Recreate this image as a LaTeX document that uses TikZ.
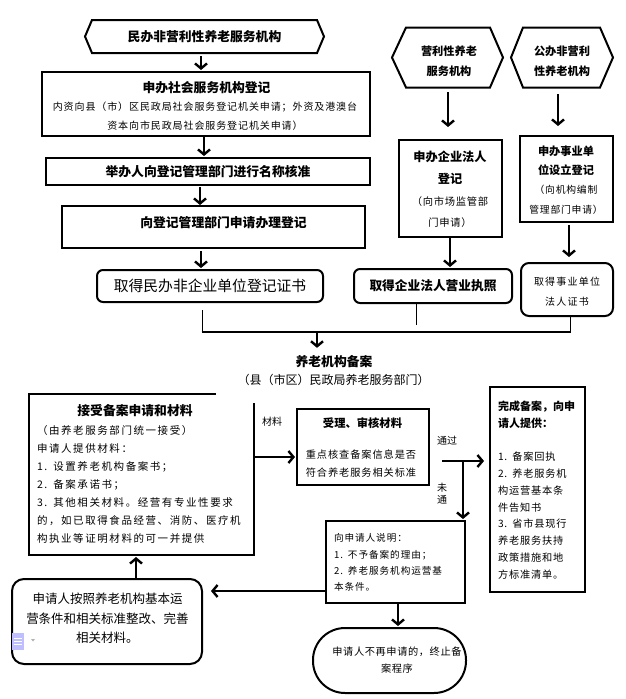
\documentclass[tikz,border=0pt]{standalone}
\usepackage{fontspec}
\setmainfont{Noto Sans CJK SC}
\usetikzlibrary{arrows.meta,calc}
\newcommand{\fz}[2]{\fontsize{#1}{#2}\selectfont}
\newcommand{\lsp}[1]{\addfontfeature{LetterSpace=#1}}
\tikzset{
  box/.style={draw, line width=2pt, inner sep=0pt, outer sep=0pt},
  rbox/.style={box, rounded corners=6pt},
  ghost/.style={inner sep=0pt, outer sep=0pt},
  txt/.style={inner sep=0pt, outer sep=0pt, align=center},
  ltxt/.style={inner sep=0pt, outer sep=0pt, align=left, anchor=west},
  edge/.style={line width=2pt, line join=miter},
  arr/.style={line width=2.4pt, -{Straight Barb[length=5pt,width=12pt]}},
  thinl/.style={line width=1pt},
}
\begin{document}
\begin{tikzpicture}[x=1pt,y=-1pt]
\useasboundingbox (0,0) rectangle (626,699);

% ---------- left column ----------
\node[ghost, minimum width=239pt, minimum height=33pt, font=\fz{12.8}{15}\bfseries] (hA) at (204.5,36.5) {民办非营利性养老服务机构};
\draw[edge] ($(hA.north west)+(7,0)$) -- ($(hA.north east)+(-7,0)$) -- (hA.east) -- ($(hA.south east)+(-7,0)$) -- ($(hA.south west)+(7,0)$) -- (hA.west) -- cycle;

\node[box, minimum width=328pt, minimum height=64pt] (bB) at (206,104) {};
\node[txt, font=\fz{12.8}{15}\bfseries] (tB1) at (206.5,87.5) {申办社会服务机构登记};
\node[txt, font=\fz{10}{19.3}\lsp{9}] (tB2) at (205,116.5) {内资向县（市）区民政局社会服务登记机关申请；外资及港澳台\\资本向市民政局社会服务登记机关申请）};

\node[box, minimum width=324pt, minimum height=27pt, font=\fz{12.8}{15}\bfseries] (bC) at (208,171.5) {举办人向登记管理部门进行名称核准};

\node[box, minimum width=303pt, minimum height=42pt] (bD) at (213.5,227) {};
\node[txt, font=\fz{12.8}{15}\bfseries] (tD) at (223.5,222.5) {向登记管理部门申请办理登记};

\node[rbox, minimum width=226pt, minimum height=32pt, font=\fz{14.8}{18}] (rE) at (210,286) {取得民办非企业单位登记证书};

\draw[arr] ($(hA.south)+(-3.5,3)$) -- ($(bB.north)+(-5,-2)$);
\draw[arr] ($(bB.south)+(-2,1)$) -- ($(bC.north)+(-4,-2)$);
\draw[arr] ($(bC.south)+(-8,2)$) -- ($(bD.north)+(-13.5,-1)$);
\draw[arr] ($(bD.south)+(-12.5,3)$) -- ($(rE.north)+(-9,-2)$);

% ---------- right columns ----------
\node[ghost, minimum width=111pt, minimum height=60pt] (hF) at (447.5,57.5) {};
\draw[edge] ($(hF.north west)+(14,0)$) -- ($(hF.north east)+(-13,0)$) -- (hF.east) -- ($(hF.south east)+(-13,0)$) -- ($(hF.south west)+(14,0)$) -- (hF.west) -- cycle;
\node[txt, font=\fz{11.2}{20}\bfseries] (tF) at (449,61) {营利性养老\\服务机构};

\node[ghost, minimum width=102pt, minimum height=60pt] (hG) at (562,57.5) {};
\draw[edge] ($(hG.north west)+(12,0)$) -- ($(hG.north east)+(-13,0)$) -- (hG.east) -- ($(hG.south east)+(-13,0)$) -- ($(hG.south west)+(12,0)$) -- (hG.west) -- cycle;
\node[txt, font=\fz{11.2}{20}\bfseries] (tG) at (562,61) {公办非营利\\性养老机构};

\node[box, minimum width=103pt, minimum height=97pt] (bH) at (450.5,188.5) {};
\node[txt, font=\fz{10.3}{21.7}] (tH) at (450,189.5) {\fz{12.2}{21.7}\bfseries 申办企业法人\\\fz{12.2}{21.7}\bfseries 登记\\\mdseries\fz{10.3}{21.7}\lsp{7}（向市场监管部\\\mdseries\fz{10.3}{21.7}\lsp{7}门申请）};

\node[box, minimum width=93pt, minimum height=86pt] (bI) at (566.5,179) {};
\node[txt, font=\fz{10}{19.3}] (tI) at (566,180) {\fz{11.2}{19.3}\bfseries 申办事业单\\\fz{11.2}{19.3}\bfseries 位设立登记\\\mdseries\fz{9.8}{19.3}\lsp{8}（向机构编制\\\mdseries\fz{9.8}{19.3}\lsp{8}管理部门申请）};

\node[rbox, minimum width=158pt, minimum height=34pt, font=\fz{12.7}{15}\bfseries] (rJ) at (433,286) {取得企业法人营业执照};
\node[rbox, rounded corners=8pt, minimum width=92pt, minimum height=53pt] (rK) at (567,289.5) {};
\node[txt, font=\fz{10}{20}\lsp{12}] (tK) at (567,292) {取得事业单位\\法人证书};

\draw[arr] ($(hF.south)+(0.5,4.5)$) -- ($(bH.north)+(-2.5,-13)$);
\draw[arr] ($(hG.south)+(-4,6.5)$) -- ($(bI.north)+(-8.5,-10)$);
\draw[arr] ($(bH.south)+(-0.5,0)$) -- ($(rJ.north)+(17,-2)$);
\draw[arr] ($(bI.south)+(2.5,3)$) -- ($(rK.north)+(2,-6)$);

% ---------- merge ----------
\coordinate (mrg) at (317,332);
\draw[thinl] ($(rE.south)+(-8,8)$) -- ++(0,22);
\draw[thinl] ($(rJ.south)+(-17,0)$) -- ++(0,22);
\draw[thinl] ($(rK.south)+(3,0)$) -- ++(0,16);
\draw[line width=2pt] ($(rE.south)+(-8.5,30)$) -- ($(rK.south)+(3.5,16)$);

\node[txt, font=\fz{12.8}{15}\bfseries] (tT) at (334,362) {养老机构备案};
\node[txt, font=\fz{12}{15}] (tU) at (333.5,380) {（县（市区）民政局养老服务部门）};
\draw[arr, shorten >=8pt] (mrg) -- (mrg |- tT.north);

% ---------- filing section ----------
\node[ghost, minimum width=225pt, minimum height=161pt] (bL) at (141.5,474.5) {};
\draw[edge] ($(bL.north west)+(187,0)$) -- (bL.north west) -- (bL.south west) -- (bL.south east) -- ($(bL.north east)+(0,9)$);
\node[txt, font=\fz{12.8}{15}\bfseries] (tL1) at (135,411) {接受备案申请和材料};
\node[ltxt, font=\fz{10.5}{18.15}\lsp{15}] (tL2) at (37,484.5) {（由养老服务部门统一接受）\\申请人提供材料：\\1.\hspace{6pt}设置养老机构备案书；\\2.\hspace{6pt}备案承诺书；\\3.\hspace{6pt}其他相关材料。经营有专业性要求\\的，如已取得食品经营、消防、医疗机\\构执业等证明材料的可一并提供};

\node[txt, font=\fz{10}{12}] (tMat) at (272,422) {材料};

\node[box, minimum width=132pt, minimum height=76pt] (bM) at (363,447) {};
\node[txt, font=\fz{11.3}{14}\bfseries] (tM1) at (362.5,423) {受理、审核材料};
\node[txt, font=\fz{10.2}{18}\lsp{9}] (tM2) at (361,464) {重点核查备案信息是否\\符合养老服务相关标准};

\draw[arr] ($(bL.east)+(0,-17.5)$) -- ($(bM.west)+(-2,10)$);

\node[box, minimum width=95pt, minimum height=205pt] (bN) at (537.5,489.5) {};
\node[ltxt, font=\fz{10.2}{16.8}] (tN) at (498,490) {\bfseries\fz{11}{16.8}完成备案，向申\\\bfseries\fz{11}{16.8}请人提供：\\ \\\mdseries\lsp{8}1.\hspace{5pt}备案回执\\\mdseries\lsp{8}2.\hspace{5pt}养老服务机\\\mdseries\lsp{8}构运营基本条\\\mdseries\lsp{8}件告知书\\\mdseries\lsp{8}3.\hspace{5pt}省市县现行\\\mdseries\lsp{8}养老服务扶持\\\mdseries\lsp{8}政策措施和地\\\mdseries\lsp{8}方标准清单。};

\node[txt, font=\fz{10}{12}] (tPass) at (447,441) {通过};
\node[txt, font=\fz{10}{12}] (tFail) at (442,494) {未\\通};
\coordinate (split) at (463,461);
\draw[arr] ($(bM.east)+(13,14)$) -- ($(bN.west)+(-6,-28.5)$);

\node[box, minimum width=139pt, minimum height=82pt] (bO) at (395.5,562) {};
\node[ltxt, font=\fz{9.6}{16.3}\lsp{10}] (tO) at (334,562.5) {向申请人说明：\\1.\hspace{5pt}不予备案的理由；\\2.\hspace{5pt}养老服务机构运营基\\本条件。};
\draw[arr] (split) -- ($(bO.north)+(67.5,-2)$);

\node[rbox, rounded corners=12pt, minimum width=190pt, minimum height=85pt] (rP) at (107,621.5) {};
\node[txt, font=\fz{12.5}{19.5}] (tP) at (107.5,618.5) {申请人按照养老机构基本运\\营条件和相关标准整改、完善\\相关材料。};

\node[box, rounded corners=32pt, minimum width=153pt, minimum height=65pt] (sQ) at (389.5,660.5) {};
\node[txt, font=\fz{10.2}{17}\lsp{6}] (tQ) at (397,660.5) {申请人不再申请的，终止备\\案程序};

\draw[arr] ($(bO.west)+(0,29)$) -- ($(rP.east)+(9,-30.5)$);
\draw[arr] ($(rP.north)+(29,-1)$) -- ($(bL.south)+(-5.5,2)$);
\draw[arr] ($(bO.south)+(2.5,1)$) -- ($(sQ.north)+(8.5,-2)$);

% paste-options icon
\fill[blue!25] (12,633) rectangle (24,650);
\draw[white, line width=0.8pt] (14,638) -- (22,638) (14,641) -- (22,641) (14,644) -- (22,644);
\fill[gray!60] (31,639) -- (35,639) -- (33,641.5) -- cycle;
\end{tikzpicture}
\end{document}
